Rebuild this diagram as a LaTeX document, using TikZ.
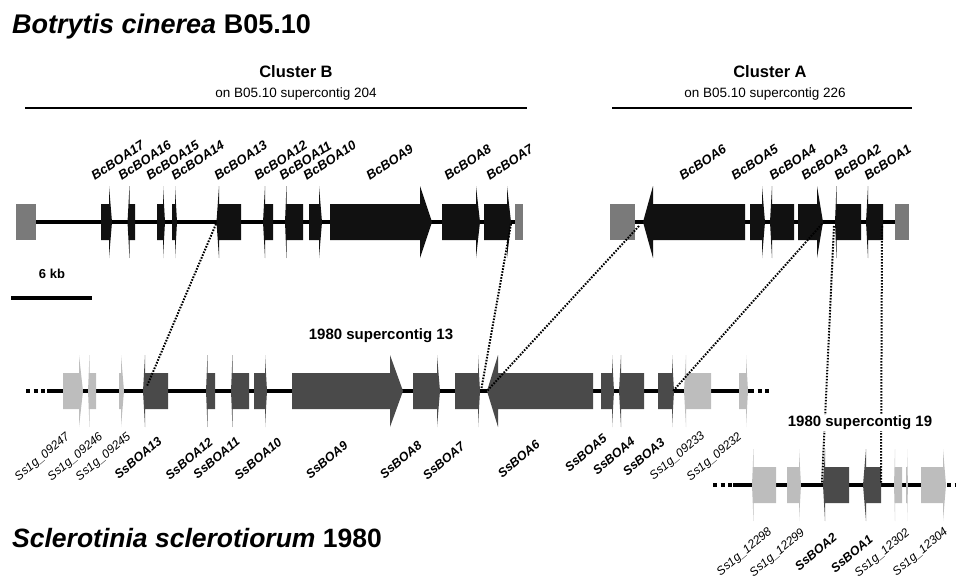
\documentclass[tikz,border=0pt]{standalone}
\usepackage{fontspec}
\setmainfont{Liberation Sans}
\definecolor{bcgray}{HTML}{111111}
\definecolor{ssgray}{HTML}{4A4A4A}
\definecolor{othgray}{HTML}{BDBDBD}
\definecolor{endgray}{HTML}{7A7A7A}
\tikzset{
  backbone/.style={line width=3.2pt},
  dashend/.style={line width=3.2pt, dash pattern=on 4pt off 3.5pt},
  homol/.style={line width=2pt, dash pattern=on 1.6pt off 1.4pt},
  bcgene/.style={fill=bcgray},
  ssgene/.style={fill=ssgray},
  othgene/.style={fill=othgray},
  endbox/.style={fill=endgray},
  toplabel/.style={rotate=33, anchor=south west, inner sep=0pt, font=\fontsize{13}{15}\selectfont\bfseries\itshape},
  boalabel/.style={rotate=40, anchor=north east, inner sep=0pt, font=\fontsize{12.5}{14}\selectfont\bfseries\itshape},
  othlabel/.style={rotate=40, anchor=north east, inner sep=0pt, font=\fontsize{12}{14}\selectfont\itshape},
  contig/.style={font=\fontsize{15}{17}\selectfont\bfseries, inner sep=1pt}
}
% gene: row y, far end, head base, tip, style
\newcommand{\genebox}[5]{%
  \fill[#5] (#2,#1-18) -- (#3,#1-18) -- (#3,#1-36) -- (#4,#1) -- (#3,#1+36)
    -- (#3,#1+18) -- (#2,#1+18) -- cycle;}
\begin{document}
\begin{tikzpicture}[x=1pt,y=-1pt]
\useasboundingbox (0,0) rectangle (956,582);

% Species names
\node[anchor=base west, inner sep=0pt, font=\fontsize{27}{30}\selectfont\bfseries] (bcname) at (12,33) {\textit{Botrytis cinerea} B05.10};
\node[anchor=base west, inner sep=0pt, font=\fontsize{26.5}{30}\selectfont\bfseries] (ssname) at (12,547) {\textit{Sclerotinia sclerotiorum} 1980};

% Cluster headers
\node[anchor=base, inner sep=0pt, font=\fontsize{16.5}{18}\selectfont\bfseries] (clB) at (296,77) {Cluster B};
\node[anchor=base, inner sep=0pt, font=\fontsize{13.5}{15}\selectfont] (clBsub) at (296,97) {on B05.10 supercontig 204};
\draw[line width=1.5pt] (25,108) -- (527,108);
\node[anchor=base, inner sep=0pt, font=\fontsize{16.5}{18}\selectfont\bfseries] (clA) at (770,77) {Cluster A};
\node[anchor=base, inner sep=0pt, font=\fontsize{13.5}{15}\selectfont] (clAsub) at (765,97) {on B05.10 supercontig 226};
\draw[line width=1.5pt] (612,108) -- (912,108);

% Scale bar
\node[anchor=base, inner sep=0pt, font=\fontsize{13}{15}\selectfont\bfseries] (scale) at (52,278) {6 kb};
\draw[line width=4pt] (11,298) -- (92,298);

% Botrytis backbones
\draw[backbone] (36,222) -- (515,222);
\draw[backbone] (635,222) -- (895,222);
\fill[endbox] (16,204) rectangle (36,240);
\fill[endbox] (515,204) rectangle (523,240);
\fill[endbox] (610,204) rectangle (635,240);
\fill[endbox] (895,204) rectangle (909,240);

% Botrytis genes
\foreach \far/\base/\tip in {101/109/112, 135/129.5/127.5, 157/163/165, 172/175/177,
    241/219/216.5, 273/265/263, 303/286.5/285, 309/319/322, 330/420/432,
    442/476/480, 484/507/511, 745/653/643, 750/762/765, 794/772/770,
    798/817/823, 861/836.5/835, 883/868/866}
  \genebox{222}{\far}{\base}{\tip}{bcgene};

\foreach \n/\x in {17/95, 16/122, 15/150, 14/175, 13/218, 12/258, 11/283, 10/307,
    9/370, 8/448, 7/490, 6/683, 5/735, 4/773, 3/805, 2/838, 1/868}
  \node[toplabel] (bc\n) at (\x,181) {BcBOA\n};

% Sclerotinia supercontig 13
\draw[backbone] (47,391) -- (750,391);
\draw[dashend] (26,391) -- (47,391);
\draw[dashend] (750,391) -- (770,391);
\foreach \far/\base/\tip in {63/79/83, 96/89.5/88, 119/121/124, 711/686/684, 739/746/748}
  \genebox{391}{\far}{\base}{\tip}{othgene};
\foreach \far/\base/\tip in {168/145/143, 215/207.5/206, 249/232.5/231, 254/265/267,
    292/390/403, 413/437/440, 455/478/480, 593/498/487, 601/612/614,
    644/621/619, 658/672/674}
  \genebox{391}{\far}{\base}{\tip}{ssgene};
\node[contig] (sc13) at (381,336) {1980 supercontig 13};

% Sclerotinia supercontig 19
\draw[backbone] (733,485) -- (945,485);
\draw[dashend] (713,485) -- (733,485);
\draw[dashend] (947,485) -- (958,485);
\foreach \far/\base/\tip in {776/753.5/752, 787/799/801, 902/895/894, 906/907/908, 921/943/946}
  \genebox{485}{\far}{\base}{\tip}{othgene};
\foreach \far/\base/\tip in {849/825/823, 881/866/863}
  \genebox{485}{\far}{\base}{\tip}{ssgene};

% Sclerotinia labels
\foreach \t/\x/\y [count=\i] in {09247/65/431, 09246/98/431, 09245/126/431, 09233/700/430,
    09232/737/431, 12298/767/526, 12299/800/527, 12302/905/527, 12304/943/526}
  \node[othlabel] (oth\i) at (\x,\y) {Ss1g\_\t};
\foreach \n/\x/\y in {13/157/436, 12/208/437, 11/235/436, 10/277/437, 9/343/440,
    8/417/440, 7/460/441, 6/535/439, 5/602/433, 4/630/436, 3/660/437, 2/832/532, 1/868/534}
  \node[boalabel] (ss\n) at (\x,\y) {SsBOA\n};

% Homology links
\coordinate (h1a) at (216,224);  \coordinate (h1b) at (147,386);
\coordinate (h2a) at (511,224);  \coordinate (h2b) at (481,391);
\coordinate (h3a) at (639,226);  \coordinate (h3b) at (487,391);
\coordinate (h4a) at (822,224);  \coordinate (h4b) at (673,391);
\coordinate (h5a) at (834,226);  \coordinate (h5b) at (822,483);
\coordinate (h6a) at (882,226);  \coordinate (h6b) at (881,483);
\foreach \k in {1,...,6}
  \draw[homol] (h\k a) -- (h\k b);
\node[contig, fill=white] (sc19) at (860,423) {1980 supercontig 19};
\end{tikzpicture}
\end{document}
